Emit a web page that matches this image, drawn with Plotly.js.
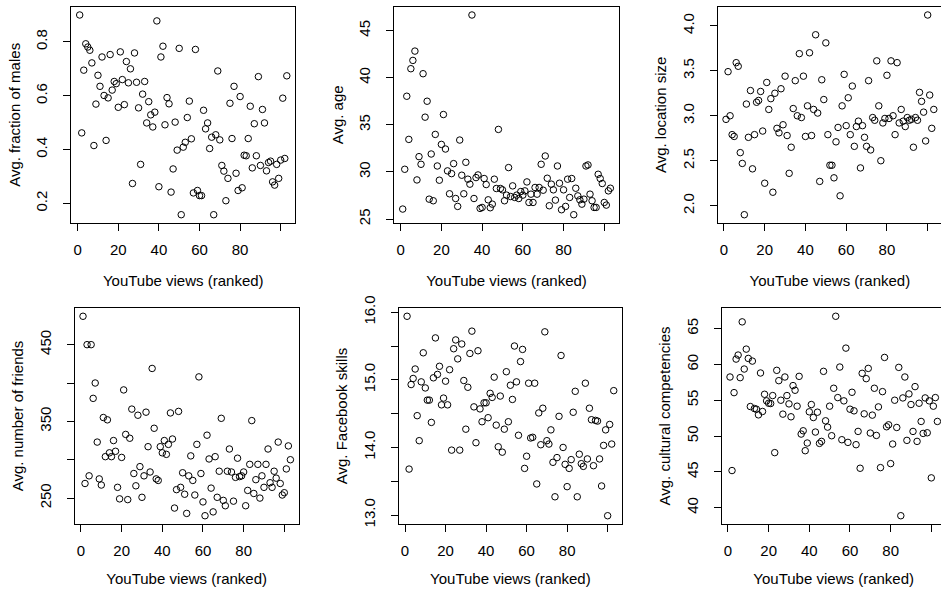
<!DOCTYPE html>
<html>
<head>
<meta charset="utf-8">
<script src="https://cdn.plot.ly/plotly-3.0.1.min.js"></script>
<style>
html,body{margin:0;padding:0;overflow:hidden;background:#fff;}
#chart{width:950px;height:593px;}
</style>
</head>
<body>
<div id="chart"></div>
<script>
// ---- data ----
const xTitle = "YouTube views (ranked)";
const xTickVals = [0, 20, 40, 60, 80, 100];
const xTickText = ["0", "20", "40", "60", "80", ""];

const fractionMales = [0.90,0.462,0.695,0.793,0.781,0.769,0.722,0.415,0.569,0.676,0.635,0.744,0.601,0.434,0.592,0.753,0.621,0.653,0.645,0.557,0.763,0.660,0.567,0.727,0.648,0.700,0.274,0.759,0.650,0.555,0.345,0.606,0.653,0.499,0.578,0.529,0.484,0.539,0.878,0.262,0.744,0.784,0.492,0.593,0.570,0.242,0.328,0.502,0.398,0.776,0.158,0.409,0.427,0.519,0.580,0.440,0.239,0.772,0.248,0.229,0.229,0.546,0.477,0.499,0.404,0.446,0.158,0.455,0.692,0.436,0.341,0.320,0.210,0.293,0.572,0.441,0.635,0.312,0.248,0.597,0.258,0.379,0.377,0.441,0.561,0.332,0.496,0.377,0.671,0.341,0.549,0.499,0.321,0.352,0.357,0.280,0.268,0.345,0.293,0.361,0.591,0.367,0.674];
const avgAge = [26.06,30.28,38.03,33.45,40.95,41.83,42.82,29.15,31.62,30.81,40.42,35.81,37.50,27.11,31.90,26.94,33.98,30.63,29.12,32.92,36.09,32.43,30.11,27.68,29.82,30.88,27.18,26.34,33.38,29.65,27.68,31.02,29.23,28.70,46.65,27.18,29.40,29.68,26.13,26.23,29.30,28.66,27.04,26.20,26.58,29.23,28.24,34.51,28.24,28.10,26.94,27.54,30.46,27.39,28.52,27.29,27.54,27.18,27.92,27.54,27.99,28.94,26.76,27.64,26.76,28.35,27.64,28.35,30.81,28.06,31.69,29.33,26.41,28.70,28.10,27.01,30.63,28.80,25.99,28.10,26.34,29.23,27.29,29.30,25.46,28.27,27.46,27.04,26.58,27.11,30.63,30.74,27.64,26.94,26.23,26.23,29.75,29.30,28.77,26.76,26.48,27.99,28.27];
const locationSize = [2.96,3.49,3.00,2.79,2.77,3.59,3.55,2.59,2.47,1.90,3.13,2.76,3.28,2.41,2.79,3.15,3.17,3.27,2.83,2.25,3.37,3.07,3.19,2.15,3.25,2.86,2.81,3.30,2.90,3.44,2.78,2.36,2.65,3.08,3.39,3.00,3.69,2.98,3.44,2.77,3.11,3.70,2.78,3.07,3.90,3.03,2.27,3.40,3.18,3.81,2.79,2.45,2.45,2.31,2.71,2.87,2.11,3.11,3.46,2.89,3.20,2.79,3.33,2.66,2.88,2.94,2.42,2.89,2.76,2.66,3.39,2.62,2.98,2.95,3.61,3.11,2.50,2.92,2.97,3.45,2.97,3.61,3.00,2.79,3.59,2.92,3.07,2.94,2.88,2.98,2.95,2.96,2.65,2.98,2.95,3.26,3.16,3.04,2.72,4.12,3.23,2.86,3.07];
const numFriends = [487,269,450,279,450,380,400,323,275,267,355,304,352,309,304,325,311,264,249,303,391,333,248,328,366,282,266,358,291,251,279,362,317,284,419,341,275,273,317,309,325,307,320,361,327,237,261,363,264,283,255,230,279,305,273,254,320,408,282,245,227,332,301,263,232,304,251,285,354,247,240,285,314,284,246,277,302,278,279,284,240,260,294,351,256,274,294,250,279,264,294,314,270,264,285,276,323,269,254,257,288,318,300];
const fbSkills = [15.94,13.68,14.93,15.02,15.16,14.47,14.10,14.97,15.40,14.88,14.70,14.70,14.37,15.03,15.62,15.08,15.20,14.63,14.73,14.98,14.63,15.15,13.96,15.46,15.59,15.31,13.96,15.53,14.99,14.27,14.89,15.39,15.72,14.60,14.07,15.43,14.57,14.38,14.66,14.66,14.44,14.80,14.74,15.04,14.33,14.01,14.76,13.93,14.27,15.12,14.38,14.92,14.71,15.50,14.97,14.18,15.27,15.45,13.69,13.87,14.95,14.14,14.15,14.95,13.46,14.51,14.04,14.58,15.71,14.10,14.05,14.26,13.78,13.27,13.85,14.46,15.36,14.00,13.75,13.42,13.69,13.82,14.52,14.83,13.27,13.90,13.76,13.72,14.95,13.83,14.58,14.41,13.73,14.40,14.39,13.83,13.43,14.03,14.26,12.99,14.34,14.05,14.84];
const culturalComp = [58.24,45.19,56.06,60.74,61.30,58.15,65.93,59.35,62.13,60.83,54.12,60.46,53.84,53.75,52.96,58.80,53.43,55.83,54.91,54.58,54.54,55.65,47.69,59.17,57.73,55.00,53.06,58.24,55.65,54.49,52.69,57.04,56.39,54.17,58.33,50.28,50.74,47.96,49.03,53.38,54.40,52.59,50.56,53.33,48.98,49.26,59.03,52.13,51.25,54.17,50.05,56.67,66.71,55.37,59.63,49.49,54.91,62.27,49.12,53.75,56.11,53.52,48.80,50.65,45.51,58.75,53.10,58.01,59.44,50.42,52.92,56.67,50.09,54.07,45.60,56.20,60.97,51.30,51.57,46.16,48.89,55.00,51.20,59.58,38.89,55.32,58.24,49.40,55.88,54.40,50.65,56.90,49.26,54.58,52.04,50.37,55.32,50.46,54.91,44.17,54.17,55.37,52.04];

const yTitles = ["Avg. fraction of males", "Avg. age", "Avg. location size",
                 "Avg. number of friends", "Avg. Facebook skills", "Avg. cultural competencies"];
const yTickVals = [
  [0.2, 0.4, 0.6, 0.8],
  [25, 30, 35, 40, 45],
  [2.0, 2.5, 3.0, 3.5, 4.0],
  [250, 300, 350, 400, 450],
  [13.0, 13.5, 14.0, 14.5, 15.0, 15.5, 16.0],
  [40, 45, 50, 55, 60, 65]
];
const yTickText = [
  ["0.2", "0.4", "0.6", "0.8"],
  ["25", "30", "35", "40", "45"],
  ["2.0", "2.5", "3.0", "3.5", "4.0"],
  ["250", "", "350", "", "450"],
  ["13.0", "", "14.0", "", "15.0", "", "16.0"],
  ["40", "45", "50", "55", "60", "65"]
];
const series = [fractionMales, avgAge, locationSize, numFriends, fbSkills, culturalComp];

// ---- layout (pixel geometry of the 2x3 panel grid, figure 950 x 593) ----
const W = 950, H = 593;
const panelX = [[71.4, 295.1], [394.4, 618.7], [717.7, 942.1],
                [74.7, 298.7], [398.8, 622.0], [721.7, 945.7]];
const panelY = [[7, 222.7], [7, 222.7], [7, 222.7],
                [308.3, 523.7], [308.3, 523.7], [308.3, 523.7]];
const xTitleStandoff = [18, 18, 18, 15, 15, 15];

const font = {family: "Liberation Sans, Arial, Helvetica, sans-serif", size: 15, color: "#000"};
const traces = [];
const layout = {
  width: W, height: H,
  margin: {l: 0, r: 0, t: 0, b: 0},
  paper_bgcolor: "#fff", plot_bgcolor: "#fff",
  showlegend: false,
  font: font
};

function rRange(vals) {
  const lo = Math.min(...vals), hi = Math.max(...vals);
  const d = (hi - lo) * 0.04;
  return [lo - d, hi + d];
}

series.forEach((vals, i) => {
  const n = i + 1;
  const ranks = vals.map((_, k) => k + 1);
  const xa = n === 1 ? "x" : "x" + n;
  const ya = n === 1 ? "y" : "y" + n;
  traces.push({
    type: "scatter", mode: "markers",
    x: ranks, y: vals, xaxis: xa, yaxis: ya,
    marker: {symbol: "circle-open", size: 6.5, color: "#000", line: {width: 1, color: "#000"}},
    hoverinfo: "x+y"
  });
  const common = {
    showline: true, mirror: true, linecolor: "#000", linewidth: 1,
    ticks: "outside", ticklen: 7, tickwidth: 1, tickcolor: "#000",
    showgrid: false, zeroline: false, tickfont: font, fixedrange: true
  };
  layout["xaxis" + (n === 1 ? "" : n)] = Object.assign({}, common, {
    domain: [panelX[i][0] / W, panelX[i][1] / W],
    anchor: ya,
    range: [1 - 0.04 * (vals.length - 1), vals.length + 0.04 * (vals.length - 1)],
    tickmode: "array", tickvals: xTickVals, ticktext: xTickText,
    ticklabelstandoff: 6,
    title: {text: xTitle, font: font, standoff: xTitleStandoff[i]}
  });
  layout["yaxis" + (n === 1 ? "" : n)] = Object.assign({}, common, {
    domain: [1 - panelY[i][1] / H, 1 - panelY[i][0] / H],
    anchor: xa,
    range: rRange(vals),
    tickmode: "array", tickvals: yTickVals[i], ticktext: yTickText[i],
    tickangle: -90,
    ticklabelstandoff: 10,
    title: {text: yTitles[i], font: font, standoff: 9}
  });
});

Plotly.newPlot("chart", traces, layout, {displayModeBar: false, staticPlot: true});
</script>
</body>
</html>
